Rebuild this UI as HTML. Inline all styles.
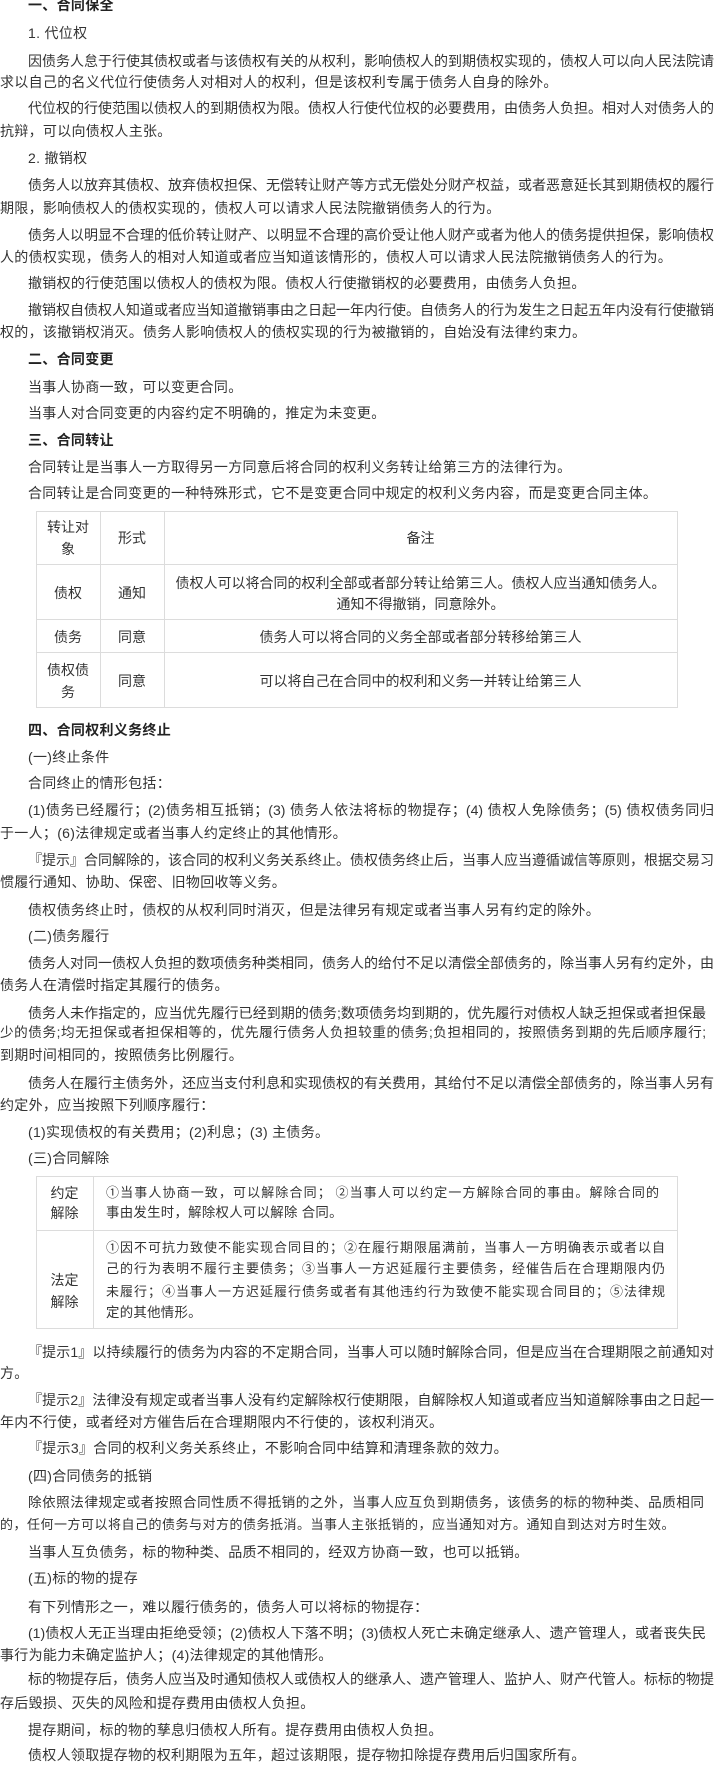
<!DOCTYPE html>
<html><head><meta charset="utf-8">
<style>
html,body{margin:0;padding:0;background:#fff;}
body{width:714px;height:1765px;position:relative;overflow:hidden;font-family:"Liberation Sans","Noto Sans CJK SC",sans-serif;font-size:14px;color:#333;}
.L{position:absolute;height:20px;line-height:20px;white-space:nowrap;letter-spacing:0.3px;}
.J{position:absolute;height:20px;line-height:20px;text-align:justify;text-align-last:justify;overflow:visible;}
.b{font-weight:bold;color:#222;}
.t{position:absolute;border:1px solid #dcdcdc;}
.vl{position:absolute;width:1px;background:#dcdcdc;}
.hl{position:absolute;height:1px;background:#dcdcdc;}
.c{position:absolute;text-align:center;line-height:20px;height:20px;white-space:nowrap;}
</style></head><body>

<div class="L b" style="left:28px;top:-5px">一、合同保全</div>
<div class="L" style="left:28px;top:23px">1. 代位权</div>
<div class="J" style="left:28px;top:51px;width:686px">因债务人怠于行使其债权或者与该债权有关的从权利，影响债权人的到期债权实现的，债权人可以向人民法院请</div>
<div class="L" style="left:0;top:72px">求以自己的名义代位行使债务人对相对人的权利，但是该权利专属于债务人自身的除外。</div>
<div class="J" style="left:28px;top:98px;width:686px">代位权的行使范围以债权人的到期债权为限。债权人行使代位权的必要费用，由债务人负担。相对人对债务人的</div>
<div class="L" style="left:0;top:121px">抗辩，可以向债权人主张。</div>
<div class="L" style="left:28px;top:148px">2. 撤销权</div>
<div class="J" style="left:28px;top:175px;width:686px">债务人以放弃其债权、放弃债权担保、无偿转让财产等方式无偿处分财产权益，或者恶意延长其到期债权的履行</div>
<div class="L" style="left:0;top:198px">期限，影响债权人的债权实现的，债权人可以请求人民法院撤销债务人的行为。</div>
<div class="J" style="left:28px;top:225px;width:686px">债务人以明显不合理的低价转让财产、以明显不合理的高价受让他人财产或者为他人的债务提供担保，影响债权</div>
<div class="L" style="left:0;top:247px">人的债权实现，债务人的相对人知道或者应当知道该情形的，债权人可以请求人民法院撤销债务人的行为。</div>
<div class="L" style="left:28px;top:273px">撤销权的行使范围以债权人的债权为限。债权人行使撤销权的必要费用，由债务人负担。</div>
<div class="J" style="left:28px;top:300px;width:686px">撤销权自债权人知道或者应当知道撤销事由之日起一年内行使。自债务人的行为发生之日起五年内没有行使撤销</div>
<div class="L" style="left:0;top:322px">权的，该撤销权消灭。债务人影响债权人的债权实现的行为被撤销的，自始没有法律约束力。</div>
<div class="L b" style="left:28px;top:349px">二、合同变更</div>
<div class="L" style="left:28px;top:377px">当事人协商一致，可以变更合同。</div>
<div class="L" style="left:28px;top:403px">当事人对合同变更的内容约定不明确的，推定为未变更。</div>
<div class="L b" style="left:28px;top:430px">三、合同转让</div>
<div class="L" style="left:28px;top:457px">合同转让是当事人一方取得另一方同意后将合同的权利义务转让给第三方的法律行为。</div>
<div class="L" style="left:28px;top:483px">合同转让是合同变更的一种特殊形式，它不是变更合同中规定的权利义务内容，而是变更合同主体。</div>

<!-- table 1 -->
<div class="t" style="left:36px;top:511px;width:640px;height:195px"></div>
<div class="vl" style="left:100px;top:511px;height:196px"></div>
<div class="vl" style="left:164px;top:511px;height:196px"></div>
<div class="hl" style="left:36px;top:564px;width:641px"></div>
<div class="hl" style="left:36px;top:619px;width:641px"></div>
<div class="hl" style="left:36px;top:652px;width:641px"></div>
<div class="c" style="left:36px;width:64px;top:517px">转让对</div>
<div class="c" style="left:36px;width:64px;top:539px">象</div>
<div class="c" style="left:100px;width:64px;top:528px">形式</div>
<div class="c" style="left:164px;width:513px;top:528px">备注</div>
<div class="c" style="left:36px;width:64px;top:583px">债权</div>
<div class="c" style="left:100px;width:64px;top:583px">通知</div>
<div class="c" style="left:164px;width:513px;top:573px">债权人可以将合同的权利全部或者部分转让给第三人。债权人应当通知债务人。</div>
<div class="c" style="left:164px;width:513px;top:594px">通知不得撤销，同意除外。</div>
<div class="c" style="left:36px;width:64px;top:627px">债务</div>
<div class="c" style="left:100px;width:64px;top:627px">同意</div>
<div class="c" style="left:164px;width:513px;top:627px">债务人可以将合同的义务全部或者部分转移给第三人</div>
<div class="c" style="left:36px;width:64px;top:660px">债权债</div>
<div class="c" style="left:36px;width:64px;top:682px">务</div>
<div class="c" style="left:100px;width:64px;top:671px">同意</div>
<div class="c" style="left:164px;width:513px;top:671px">可以将自己在合同中的权利和义务一并转让给第三人</div>

<div class="L b" style="left:28px;top:720px">四、合同权利义务终止</div>
<div class="L" style="left:28px;top:747px">(一)终止条件</div>
<div class="L" style="left:28px;top:773px">合同终止的情形包括：</div>
<div class="J" style="left:28px;top:800px;width:686px">(1)债务已经履行；(2)债务相互抵销；(3) 债务人依法将标的物提存；(4) 债权人免除债务；(5) 债权债务同归</div>
<div class="L" style="left:0;top:823px">于一人；(6)法律规定或者当事人约定终止的其他情形。</div>
<div class="J" style="left:28px;top:850px;width:686px">『提示』合同解除的，该合同的权利义务关系终止。债权债务终止后，当事人应当遵循诚信等原则，根据交易习</div>
<div class="L" style="left:0;top:872px">惯履行通知、协助、保密、旧物回收等义务。</div>
<div class="L" style="left:28px;top:900px">债权债务终止时，债权的从权利同时消灭，但是法律另有规定或者当事人另有约定的除外。</div>
<div class="L" style="left:28px;top:926px">(二)债务履行</div>
<div class="J" style="left:28px;top:953px;width:686px">债务人对同一债权人负担的数项债务种类相同，债务人的给付不足以清偿全部债务的，除当事人另有约定外，由</div>
<div class="L" style="left:0;top:975px">债务人在清偿时指定其履行的债务。</div>
<div class="J" style="left:28px;top:1003px;width:678px">债务人未作指定的，应当优先履行已经到期的债务;数项债务均到期的，优先履行对债权人缺乏担保或者担保最</div>
<div class="J" style="left:0;top:1023px;width:706px;font-size:13.6px">少的债务;均无担保或者担保相等的，优先履行债务人负担较重的债务;负担相同的，按照债务到期的先后顺序履行;</div>
<div class="L" style="left:0;top:1045px">到期时间相同的，按照债务比例履行。</div>
<div class="J" style="left:28px;top:1073px;width:686px">债务人在履行主债务外，还应当支付利息和实现债权的有关费用，其给付不足以清偿全部债务的，除当事人另有</div>
<div class="L" style="left:0;top:1095px">约定外，应当按照下列顺序履行：</div>
<div class="L" style="left:28px;top:1122px">(1)实现债权的有关费用；(2)利息；(3) 主债务。</div>
<div class="L" style="left:28px;top:1148px">(三)合同解除</div>

<!-- table 2 -->
<div class="t" style="left:36px;top:1176px;width:640px;height:151px"></div>
<div class="vl" style="left:93px;top:1176px;height:152px"></div>
<div class="hl" style="left:36px;top:1230px;width:641px"></div>
<div class="c" style="left:36px;width:57px;top:1183px">约定</div>
<div class="c" style="left:36px;width:57px;top:1203px">解除</div>
<div class="J" style="left:106px;top:1183px;width:553px;font-size:13px">①当事人协商一致，可以解除合同； ②当事人可以约定一方解除合同的事由。解除合同的</div>
<div class="L" style="left:106px;top:1203px;font-size:13.4px">事由发生时，解除权人可以解除 合同。</div>
<div class="c" style="left:36px;width:57px;top:1270px">法定</div>
<div class="c" style="left:36px;width:57px;top:1292px">解除</div>
<div class="J" style="left:106px;top:1238px;width:559px;font-size:13px">①因不可抗力致使不能实现合同目的；②在履行期限届满前，当事人一方明确表示或者以自</div>
<div class="J" style="left:106px;top:1259px;width:559px;font-size:13px">己的行为表明不履行主要债务；③当事人一方迟延履行主要债务，经催告后在合理期限内仍</div>
<div class="J" style="left:106px;top:1282px;width:559px;font-size:13px">未履行；④当事人一方迟延履行债务或者有其他违约行为致使不能实现合同目的；⑤法律规</div>
<div class="L" style="left:106px;top:1303px;font-size:13.4px">定的其他情形。</div>

<div class="J" style="left:28px;top:1342px;width:686px">『提示1』以持续履行的债务为内容的不定期合同，当事人可以随时解除合同，但是应当在合理期限之前通知对</div>
<div class="L" style="left:0;top:1363px">方。</div>
<div class="J" style="left:28px;top:1390px;width:686px">『提示2』法律没有规定或者当事人没有约定解除权行使期限，自解除权人知道或者应当知道解除事由之日起一</div>
<div class="L" style="left:0;top:1412px">年内不行使，或者经对方催告后在合理期限内不行使的，该权利消灭。</div>
<div class="L" style="left:28px;top:1438px">『提示3』合同的权利义务关系终止，不影响合同中结算和清理条款的效力。</div>
<div class="L" style="left:28px;top:1466px">(四)合同债务的抵销</div>
<div class="J" style="left:28px;top:1493px;width:676px;font-size:13.6px">除依照法律规定或者按照合同性质不得抵销的之外，当事人应互负到期债务，该债务的标的物种类、品质相同</div>
<div class="L" style="left:0;top:1515px;font-size:13px;letter-spacing:0.5px">的，任何一方可以将自己的债务与对方的债务抵消。当事人主张抵销的，应当通知对方。通知自到达对方时生效。</div>
<div class="L" style="left:28px;top:1542px">当事人互负债务，标的物种类、品质不相同的，经双方协商一致，也可以抵销。</div>
<div class="L" style="left:28px;top:1568px">(五)标的物的提存</div>
<div class="L" style="left:28px;top:1597px">有下列情形之一，难以履行债务的，债务人可以将标的物提存：</div>
<div class="J" style="left:28px;top:1623px;width:678px">(1)债权人无正当理由拒绝受领；(2)债权人下落不明；(3)债权人死亡未确定继承人、遗产管理人，或者丧失民</div>
<div class="L" style="left:0;top:1645px">事行为能力未确定监护人；(4)法律规定的其他情形。</div>
<div class="J" style="left:28px;top:1669px;width:686px">标的物提存后，债务人应当及时通知债权人或债权人的继承人、遗产管理人、监护人、财产代管人。标标的物提</div>
<div class="L" style="left:0;top:1693px">存后毁损、灭失的风险和提存费用由债权人负担。</div>
<div class="L" style="left:28px;top:1720px">提存期间，标的物的孳息归债权人所有。提存费用由债权人负担。</div>
<div class="L" style="left:28px;top:1745px">债权人领取提存物的权利期限为五年，超过该期限，提存物扣除提存费用后归国家所有。</div>

</body></html>
